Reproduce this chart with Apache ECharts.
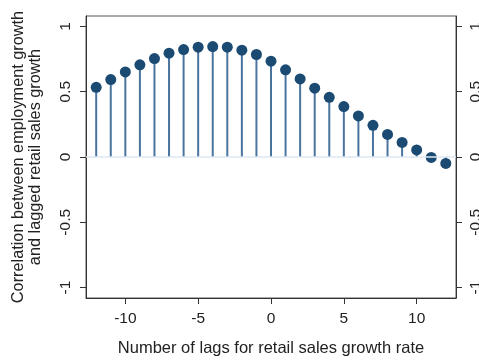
<!DOCTYPE html>
<html>
<head>
<meta charset="utf-8">
<script src="https://cdn.jsdelivr.net/npm/echarts@6/dist/echarts.min.js"></script>
<style>
  html, body { margin: 0; padding: 0; background: #fff; }
  #chart { width: 479px; height: 360px; }
</style>
</head>
<body>
<div id="chart"></div>
<script>
// Lags of retail sales growth and their correlation with employment growth
const lags = [-12, -11, -10, -9, -8, -7, -6, -5, -4, -3, -2, -1, 0, 1, 2, 3, 4, 5, 6, 7, 8, 9, 10, 11, 12];
const correlations = [0.534, 0.593, 0.652, 0.706, 0.754, 0.795, 0.823, 0.841, 0.846, 0.841, 0.818, 0.785, 0.734,
                      0.668, 0.598, 0.527, 0.457, 0.386, 0.315, 0.243, 0.173, 0.112, 0.054, -0.003, -0.049];
const xTicks = [-10, -5, 0, 5, 10];
const yTicks = [-1, -0.5, 0, 0.5, 1];

const points = lags.map((l, i) => [l, correlations[i]]);

const textColor = '#222';
const font = 'Liberation Sans, Arial, sans-serif';

const yAxisBase = {
  type: 'value',
  min: -1.08,
  max: 1.08,
  splitLine: { show: false },
  axisLine: { show: true, onZero: false, lineStyle: { color: '#333', width: 1 } },
  axisTick: { show: true, length: 6, lineStyle: { color: '#333' }, customValues: yTicks },
  axisLabel: {
    rotate: 90, color: textColor, fontSize: 15.5, fontFamily: font, margin: 12,
    customValues: yTicks,
    formatter: v => String(v)
  }
};

const chart = echarts.init(document.getElementById('chart'), null, { renderer: 'canvas' });
chart.setOption({
  animation: false,
  backgroundColor: '#fff',
  grid: {
    left: 86, right: 23, top: 16, bottom: 62,
    outerBoundsMode: 'none', containLabel: false,
    show: true, borderColor: '#555', borderWidth: 1
  },
  xAxis: {
    type: 'value',
    min: -12.7,
    max: 12.7,
    name: 'Number of lags for retail sales growth rate',
    nameLocation: 'middle',
    nameGap: 42,
    nameTextStyle: { color: textColor, fontSize: 16.5, fontFamily: font },
    splitLine: { show: false },
    axisLine: { onZero: false, lineStyle: { color: '#333' } },
    axisTick: { length: 6, lineStyle: { color: '#333' }, customValues: xTicks },
    axisLabel: { color: textColor, fontSize: 15.5, fontFamily: font, margin: 13, customValues: xTicks }
  },
  yAxis: [
    Object.assign({}, yAxisBase, {
      position: 'left',
      name: 'Correlation between employment growth\nand lagged retail sales growth',
      nameLocation: 'middle',
      nameRotate: 90,
      nameGap: 42,
      nameTextStyle: { color: textColor, fontSize: 16.3, fontFamily: font, lineHeight: 17 }
    }),
    Object.assign({}, yAxisBase, { position: 'right' })
  ],
  series: [
    {
      // vertical stems from zero to each correlation
      type: 'custom',
      data: points,
      renderItem: function (params, api) {
        const base = api.coord([api.value(0), 0]);
        const tip = api.coord([api.value(0), api.value(1)]);
        return {
          type: 'line',
          shape: { x1: base[0], y1: base[1], x2: tip[0], y2: tip[1] },
          style: { stroke: '#4a74a0', lineWidth: 2 }
        };
      },
      z: 2,
      markLine: {
        silent: true,
        symbol: 'none',
        label: { show: false },
        lineStyle: { color: '#dde8f1', width: 1.5, type: 'solid' },
        data: [{ yAxis: 0 }]
      }
    },
    {
      type: 'scatter',
      data: points,
      symbol: 'circle',
      symbolSize: 11,
      itemStyle: { color: '#1b4a72', opacity: 1 },
      z: 3
    }
  ]
});
</script>
</body>
</html>
